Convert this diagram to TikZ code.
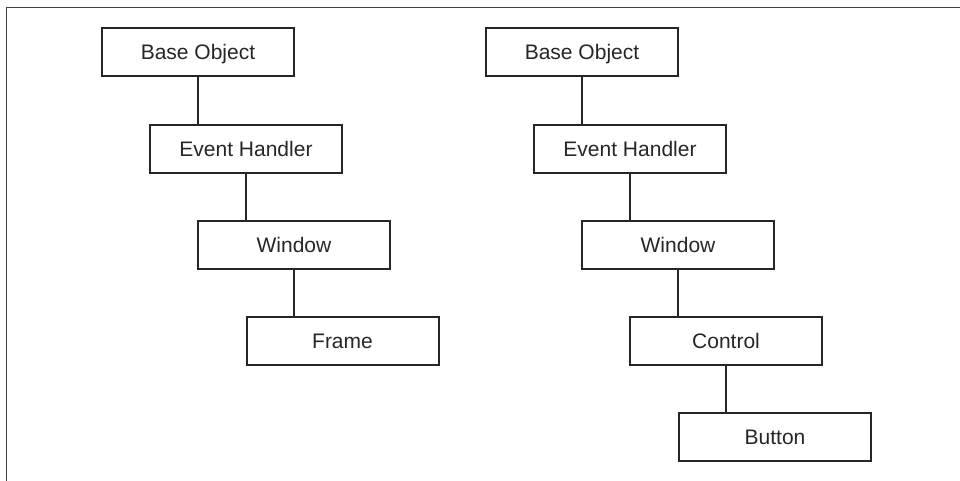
\documentclass[tikz,border=0pt]{standalone}
\usepackage{fontspec}
\setmainfont{Liberation Sans}
\begin{document}
\begin{tikzpicture}[x=1pt,y=-1pt,
  cls/.style={draw=black!85, line width=2pt, rectangle, minimum width=192pt, minimum height=48pt,
    inner sep=0pt, text=black!85, font=\fontsize{21}{25}\selectfont, text height=15pt, text depth=0pt},
  link/.style={draw=black!85, line width=2pt},
  frameline/.style={draw=black!75, line width=1.5pt}]
\useasboundingbox (0,0) rectangle (960,481);
\coordinate (fl) at (6.5,481);
\coordinate (fc) at (6.5,7.5);
\coordinate (fr) at (960,7.5);
\draw[frameline] (fl) -- (fc) -- (fr);
% left hierarchy
\node[cls] (lbase) at (198,52) {Base Object};
\node[cls] (leh) at (246,149) {Event Handler};
\node[cls] (lwin) at (294,245) {Window};
\node[cls] (lframe) at (342.5,341) {Frame};
% right hierarchy
\node[cls] (rbase) at (582,52) {Base Object};
\node[cls] (reh) at (630,149) {Event Handler};
\node[cls] (rwin) at (678,245) {Window};
\node[cls] (rctl) at (726,341) {Control};
\node[cls] (rbtn) at (775,437) {Button};
% connectors
\draw[link] (lbase.south) -- (lbase.south |- leh.north);
\draw[link] (leh.south) -- (leh.south |- lwin.north);
\draw[link] (lwin.south) -- (lwin.south |- lframe.north);
\draw[link] (rbase.south) -- (rbase.south |- reh.north);
\draw[link] (reh.south) -- (reh.south |- rwin.north);
\draw[link] (rwin.south) -- (rwin.south |- rctl.north);
\draw[link] (rctl.south) -- (rctl.south |- rbtn.north);
\end{tikzpicture}
\end{document}
